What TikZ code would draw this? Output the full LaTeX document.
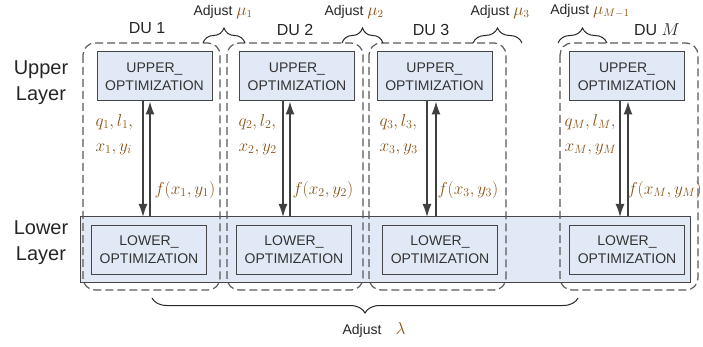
\documentclass[tikz,border=0pt]{standalone}
\usepackage{fontspec}
\setmainfont{Liberation Sans}
\usepackage{tikz}
\usetikzlibrary{decorations.pathreplacing}
\usetikzlibrary{arrows.meta}
\usepackage{color}

\definecolor{boxfill}{RGB}{226,233,246}
\definecolor{boxline}{RGB}{70,70,70}
\definecolor{mathc}{RGB}{135,85,25}

\tikzset{
  optbox/.style={draw=boxline, fill=boxfill, line width=1pt, minimum width=115pt,
    minimum height=49pt, inner sep=0pt, align=center, text=black!80,
    font=\fontsize{14}{18}\selectfont},
  group/.style={draw=black!65, line width=1.2pt, dash pattern=on 8pt off 4pt,
    rounded corners=12pt},
  arr/.style={draw=black!75, line width=1.4pt, -{Latex[length=13pt,width=9pt]}},
  brc/.style={decorate, decoration={brace, amplitude=15pt}, line width=1pt, draw=black!85},
  lbl/.style={font=\fontsize{14}{18}\selectfont, text=black!85},
  dulbl/.style={font=\fontsize{16}{18}\selectfont, text=black!85},
  layer/.style={align=center, font=\fontsize{20}{26}\selectfont, text=black!85},
  var/.style={anchor=west, align=left, text=mathc, font=\fontsize{17}{25}\selectfont}
}

\begin{document}
\begin{tikzpicture}[x=1pt, y=-1pt]
	\useasboundingbox (0,0) rectangle (703,347);
	% layers
	\node[layer] (upl) at (41,83) {Upper\\Layer};
	\node[layer] (lowl) at (41,243) {Lower\\Layer};
	\draw [draw=boxline, fill=boxfill, line width=1pt] (80,217) coordinate (bandtl) rectangle (690,282) coordinate (bandbr);
	\coordinate (band) at (385,217);
	% distribution units
	\draw [group] (83,43) rectangle (220,290);
	\draw [group] (227,43) rectangle (363,290);
	\draw [group] (369,43) rectangle (506,290);
	\draw [group] (560,43) rectangle (698,290);
	\node[dulbl] (du1) at (147,28) {DU 1};
	\node[dulbl] (du2) at (295,30) {DU 2};
	\node[dulbl] (du3) at (431,30) {DU 3};
	\node[dulbl] (dum) at (657,30) {DU $M$};
	% optimization boxes
	\node[optbox] (up1) at (154.5,76.5) {UPPER\_\\OPTIMIZATION};
	\node[optbox] (up2) at (297,76.5) {UPPER\_\\OPTIMIZATION};
	\node[optbox] (up3) at (434.5,76.5) {UPPER\_\\OPTIMIZATION};
	\node[optbox] (upm) at (627,76.5) {UPPER\_\\OPTIMIZATION};
	\node[optbox] (lo1) at (149,249.5) {LOWER\_\\OPTIMIZATION};
	\node[optbox] (lo2) at (294,249.5) {LOWER\_\\OPTIMIZATION};
	\node[optbox] (lo3) at (440,249.5) {LOWER\_\\OPTIMIZATION};
	\node[optbox] (lom) at (627,249.5) {LOWER\_\\OPTIMIZATION};
	% exchanges
	\draw [arr] ([xshift=-11.5pt]up1.south) -- ([xshift=-11.5pt]up1.south |- band);
	\draw [arr] ([xshift=-4.5pt]up1.south |- band) -- ([xshift=-4.5pt]up1.south);
	\draw [arr] ([xshift=-14pt]up2.south) -- ([xshift=-14pt]up2.south |- band);
	\draw [arr] ([xshift=-7pt]up2.south |- band) -- ([xshift=-7pt]up2.south);
	\draw [arr] ([xshift=-7.5pt]up3.south) -- ([xshift=-7.5pt]up3.south |- band);
	\draw [arr] ([xshift=1.5pt]up3.south |- band) -- ([xshift=1.5pt]up3.south);
	\draw [arr] ([xshift=-7pt]upm.south) -- ([xshift=-7pt]upm.south |- band);
	\draw [arr] ([xshift=1pt]upm.south |- band) -- ([xshift=1pt]upm.south);
	\node[var] (v1) at (92,134.5) {$q_1,l_1,$\\$x_1,y_i$};
	\node[var] (v2) at (235,134.5) {$q_2,l_2,$\\$x_2,y_2$};
	\node[var] (v3) at (376,134.5) {$q_3,l_3,$\\$x_3,y_3$};
	\node[var] (vm) at (561,134.5) {$q_M,l_M,$\\$x_M,y_M$};
	\node[var] (f1) at (151,190) {$f(x_1,y_1)$};
	\node[var] (f2) at (289,190) {$f(x_2,y_2)$};
	\node[var] (f3) at (434,190) {$f(x_3,y_3)$};
	\node[var] (fm) at (624,190) {$f(x_M,y_M)$};
	% multipliers
	\draw [brc] (203,43) -- (245,43);
	\draw [brc] (342,43) -- (383,43);
	\draw [brc] (473,43) -- (522,43);
	\draw [brc] (558,43) -- (607,43);
	\draw [brc] (578,298) -- (152,298);
	\node[lbl] (mu1) at (223,12) {Adjust \textcolor{mathc}{\fontsize{16}{18}\selectfont$\mu_1$}};
	\node[lbl] (mu2) at (354,12) {Adjust \textcolor{mathc}{\fontsize{16}{18}\selectfont$\mu_2$}};
	\node[lbl] (mu3) at (500,12) {Adjust \textcolor{mathc}{\fontsize{16}{18}\selectfont$\mu_3$}};
	\node[lbl] (mum) at (590,11) {Adjust \textcolor{mathc}{\fontsize{16}{18}\selectfont$\mu_{M-1}$}};
	\node[lbl] (lam) at (374,330) {Adjust\quad\textcolor{mathc}{\fontsize{16}{18}\selectfont$\lambda$}};
\end{tikzpicture}
\end{document}
